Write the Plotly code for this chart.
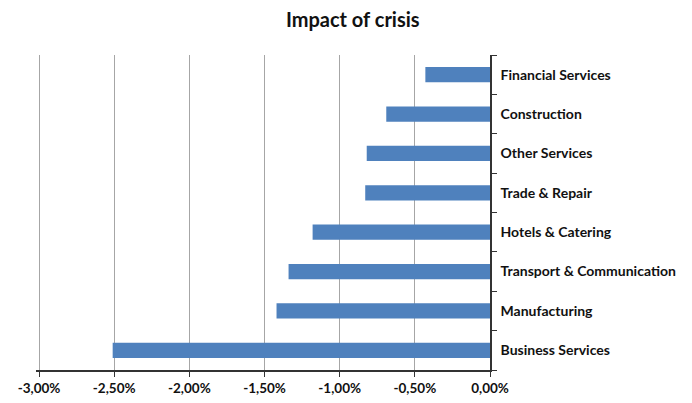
import plotly.graph_objects as go

categories = ["Business Services", "Manufacturing", "Transport & Communication",
              "Hotels & Catering", "Trade & Repair", "Other Services",
              "Construction", "Financial Services"]
values = [-0.0251, -0.0142, -0.0134, -0.0118, -0.0083, -0.0082, -0.0069, -0.0043]
x_ticks = [-0.03, -0.025, -0.02, -0.015, -0.01, -0.005, 0.0]
x_tick_labels = ["-3,00%", "-2,50%", "-2,00%", "-1,50%", "-1,00%", "-0,50%", "0,00%"]
title = "Impact of crisis"

fig = go.Figure(go.Bar(
    x=values, y=categories, orientation="h",
    marker=dict(color="#4F81BD", line=dict(width=0)),
    width=0.39,
))

# page body has an 8px default margin, so the figure is sized to fit
fig.update_layout(
    width=684, height=395,
    margin=dict(l=28, r=202, t=47, b=33),
    paper_bgcolor="white", plot_bgcolor="white",
    separators=",.",
    showlegend=False,
    title=dict(text=title, x=0.504, xanchor="center", y=0.97, yanchor="middle",
               font=dict(family="Lato", size=20, color="#111", weight="bold")),
    font=dict(family="Lato", color="#111"),
)
fig.update_xaxes(
    range=[-0.0302, 0], tickvals=x_ticks, ticktext=x_tick_labels,
    showgrid=True, gridcolor="#a6a6a6", gridwidth=1,
    showline=True, linecolor="#333", linewidth=1.5,
    ticks="outside", ticklen=5, tickcolor="#333",
    tickfont=dict(family="Lato", size=13.5, weight="bold"),
    zeroline=False, automargin=False,
)
fig.update_yaxes(
    type="category", categoryorder="array", categoryarray=categories,
    range=[-0.5, 7.5], side="right",
    showline=True, linecolor="#333", linewidth=1.5,
    ticks="outside", ticklen=5, tickcolor="#333", tickson="boundaries",
    tickfont=dict(family="Lato", size=14, weight="bold"),
    showgrid=False, zeroline=False, ticklabelstandoff=6, automargin=False,
)

fig.write_html("out.html")
